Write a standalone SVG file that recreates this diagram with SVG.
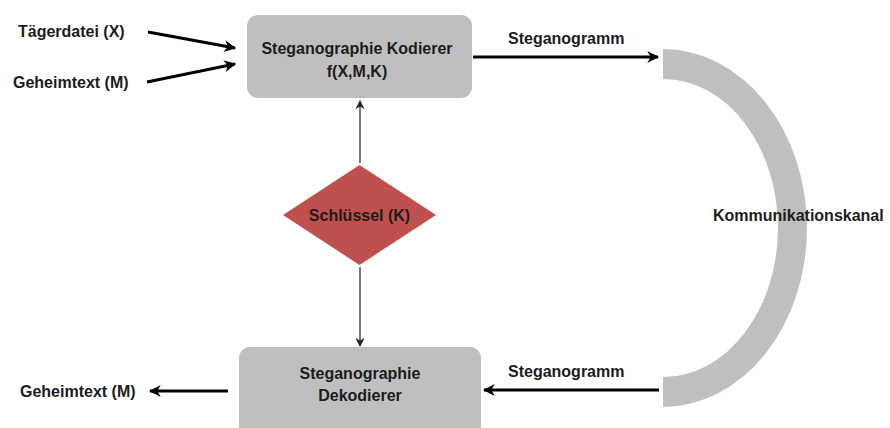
<svg xmlns="http://www.w3.org/2000/svg" width="890" height="428" viewBox="0 0 890 428">
  <style>
    .lbl { font-family: "Liberation Sans", Arial, sans-serif; font-weight: bold; font-size: 16px; fill: #1c1c1c; }
    .mid { text-anchor: middle; }
    .box { fill: #bfbfbf; }
    .thick { stroke: #000; stroke-width: 3; fill: none; }
    .thin { stroke: #333; stroke-width: 1.3; fill: none; }
  </style>
  <defs>
    <marker id="headBig" viewBox="0 0 10 10" refX="9" refY="5" markerWidth="4" markerHeight="4" markerUnits="strokeWidth" orient="auto">
      <path d="M0,0 L10,5 L0,10 L3,5 Z" fill="#000"/>
    </marker>
    <marker id="headSmall" viewBox="0 0 10 10" refX="9" refY="5" markerWidth="7" markerHeight="7" markerUnits="strokeWidth" orient="auto">
      <path d="M0,0 L10,5 L0,10 L3,5 Z" fill="#222"/>
    </marker>
  </defs>

  <!-- encoder -->
  <g id="encoder">
    <rect class="box" x="247" y="15" width="225" height="83" rx="11"/>
    <text class="lbl mid" x="357" y="54">Steganographie Kodierer</text>
    <text class="lbl mid" x="357" y="77">f(X,M,K)</text>
  </g>

  <!-- decoder -->
  <g id="decoder">
    <rect class="box" x="239" y="347" width="242" height="90" rx="11"/>
    <text class="lbl mid" x="360" y="379">Steganographie</text>
    <text class="lbl mid" x="360" y="401">Dekodierer</text>
  </g>

  <!-- key -->
  <g id="key">
    <polygon points="359.5,165 436,215 359.5,265 283,215" fill="#c0504d"/>
    <text class="lbl mid" x="359.5" y="221">Schlüssel (K)</text>
  </g>

  <!-- communication channel -->
  <g id="channel">
    <path d="M663,49 A144,179 0 0 1 663,407 L663,377 A115,149 0 0 0 663,79 Z" fill="#bfbfbf"/>
    <text class="lbl" x="713" y="221">Kommunikationskanal</text>
  </g>

  <!-- inputs / output labels -->
  <g id="carrier">
    <text class="lbl" x="18" y="37">Tägerdatei (X)</text>
  </g>
  <g id="secret-in">
    <text class="lbl" x="13" y="88">Geheimtext (M)</text>
  </g>
  <g id="secret-out">
    <text class="lbl" x="20" y="397">Geheimtext (M)</text>
  </g>

  <!-- connectors -->
  <g id="connectors">
    <line class="thick" x1="148" y1="32" x2="235" y2="48" marker-end="url(#headBig)"/>
    <line class="thick" x1="147" y1="82" x2="235" y2="64" marker-end="url(#headBig)"/>
    <line class="thick" x1="473" y1="57" x2="658" y2="57" marker-end="url(#headBig)"/>
    <text class="lbl" x="508" y="44">Steganogramm</text>
    <line class="thick" x1="659" y1="390" x2="484" y2="390" marker-end="url(#headBig)"/>
    <text class="lbl" x="508" y="377">Steganogramm</text>
    <line class="thick" x1="228" y1="391" x2="150" y2="391" marker-end="url(#headBig)"/>
    <line class="thin" x1="360" y1="163" x2="360" y2="101" marker-end="url(#headSmall)"/>
    <line class="thin" x1="360" y1="267" x2="360" y2="346" marker-end="url(#headSmall)"/>
  </g>
</svg>
